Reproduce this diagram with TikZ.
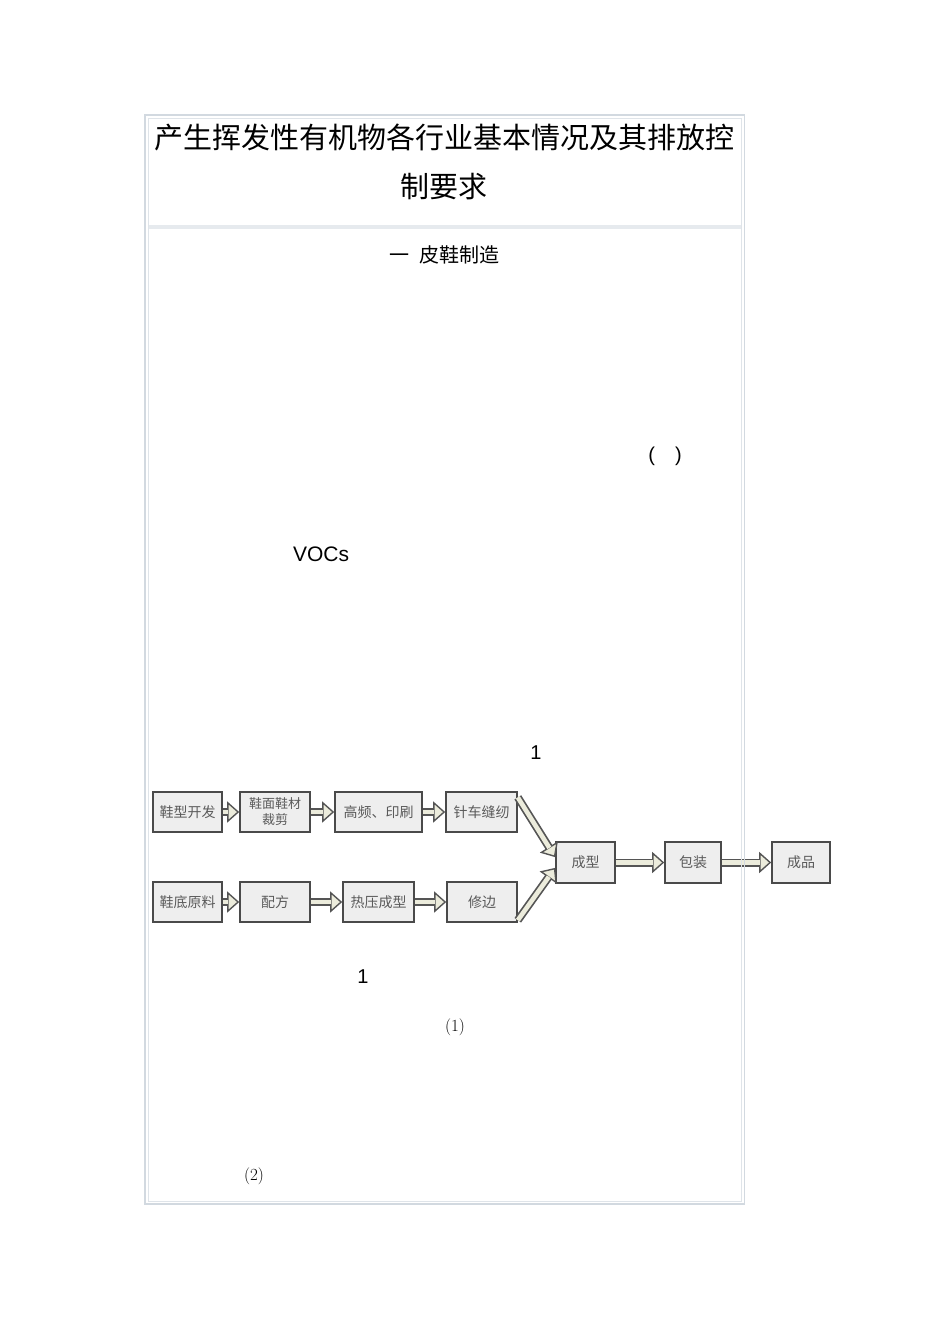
\documentclass[tikz,border=0pt]{standalone}
\usepackage{fontspec}
\newfontfamily\cjk{Noto Sans CJK SC}
\newfontfamily\arial{Liberation Sans}
\usetikzlibrary{arrows.meta,calc,positioning}
\definecolor{frameline}{HTML}{D2D9E0}
\definecolor{framefill}{HTML}{E6EAEE}
\definecolor{boxedge}{HTML}{4A4A4A}
\definecolor{boxfill}{HTML}{EEEEEE}
\definecolor{boxtext}{HTML}{5A5A5A}
\definecolor{arrowedge}{HTML}{555555}
\definecolor{arrowfill}{HTML}{ECECDC}

\begin{document}
\begin{tikzpicture}[x=1pt,y=-1pt,
    box/.style={draw=boxedge, fill=boxfill, line width=1.6pt, minimum height=40pt,
      inner sep=0pt, align=center, text=boxtext, font=\cjk\fontsize{14}{15}\selectfont},
    flow/.style={draw=arrowedge, line width=8pt,
      -{Triangle[length=12pt,width=21pt,line width=1.4pt,fill=arrowfill]},
      postaction={draw=arrowfill, line width=4.6pt, shorten >=11pt, -}},
    lbl/.style={inner sep=0pt, text=black}]
        \useasboundingbox (0,0) rectangle (950,1344); % page

        % title and headings
        \node[lbl, font=\cjk\fontsize{29}{31}\selectfont] (title) at (444,137) {产生挥发性有机物各行业基本情况及其排放控};
        \node[lbl, font=\cjk\fontsize{29}{31}\selectfont] (title2) at (444,187) {制要求};
        \node[lbl, font=\cjk\fontsize{20}{22}\selectfont] (sec) at (444,255) {一\hspace{10pt}皮鞋制造};
        \node[lbl, font=\arial\fontsize{20}{22}\selectfont] (paren) at (665,456) {(\hspace{20pt})};
        \node[lbl, font=\arial\fontsize{21}{23}\selectfont] (voc) at (321,554) {VOCs};
        \node[lbl, font=\arial\fontsize{20}{22}\selectfont] (one) at (536,753) {1};

        % flow chart, upper row
        \node[box, minimum width=69pt] (kf) at (187.5,812) {鞋型开发};
        \node[box, minimum width=70pt, font=\cjk\fontsize{13}{16}\selectfont] (cj) at (275,812) {鞋面鞋材\\裁剪};
        \node[box, minimum width=87pt] (yz) at (378.5,812) {高频、印刷};
        \node[box, minimum width=71pt] (fr) at (481.5,812) {针车缝纫};
        % lower row
        \node[box, minimum width=69pt] (yl) at (187.5,902) {鞋底原料};
        \node[box, minimum width=70pt] (pf) at (275,902) {配方};
        \node[box, minimum width=71pt] (ry) at (378.5,902) {热压成型};
        \node[box, minimum width=70pt] (xb) at (482,902) {修边};
        % joined part
        \node[box, minimum width=59pt, minimum height=41pt] (cx) at (585.5,862.5) {成型};
        \node[box, minimum width=56pt, minimum height=41pt] (bz) at (693,862.5) {包装};
        \node[box, minimum width=58pt, minimum height=41pt] (cp) at (801,862.5) {成品};

        \draw[flow] (kf) -- (cj);
        \draw[flow] (cj) -- (yz);
        \draw[flow] (yz) -- (fr);
        \draw[flow] (yl) -- (pf);
        \draw[flow] (pf) -- (ry);
        \draw[flow] (ry) -- (xb);
        \draw[flow] (fr.22) -- (cx.170);
        \draw[flow] (xb.333) -- (cx.190);
        \draw[flow] (cx) -- (bz);
        \draw[flow] (bz) -- (cp);

        \node[lbl, font=\arial\fontsize{20}{22}\selectfont] (one2) at (363,977) {1};
        \node[lbl, font=\fontsize{17}{19}\selectfont] (n1) at (455,1027) {(1)};
        \node[lbl, font=\fontsize{17}{19}\selectfont] (n2) at (254,1176) {(2)};

        % table frame
        \fill[framefill] (148,225) rectangle (742,229); % row rule
        \draw[frameline, line width=1.2pt] (145,115) rectangle (744.5,1204);
        \draw[frameline!70, line width=1pt] (148,118) rectangle (741.5,1201);
\end{tikzpicture}
\end{document}
